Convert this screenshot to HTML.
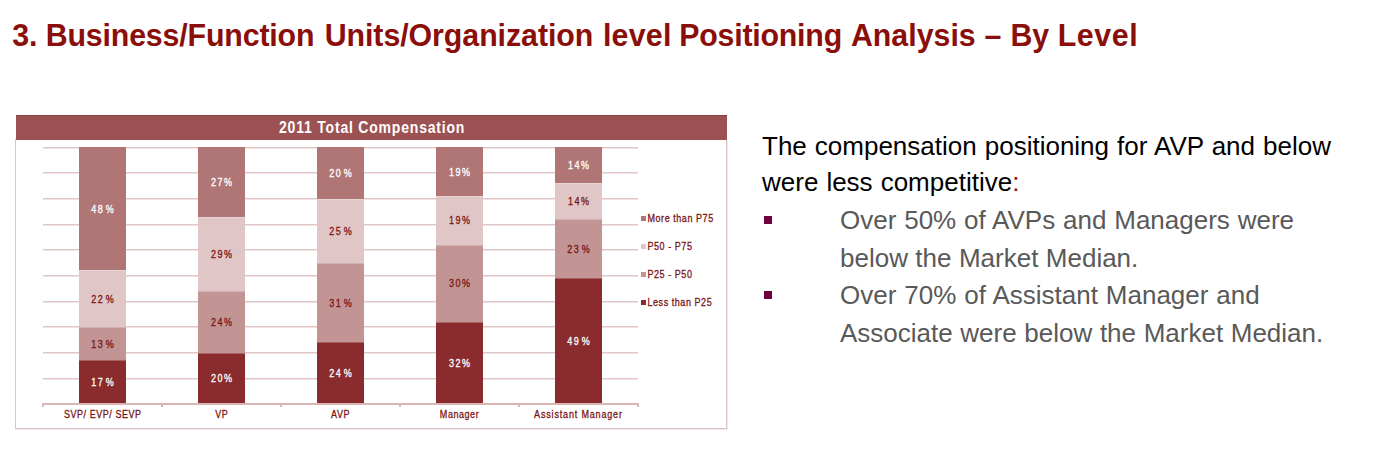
<!DOCTYPE html>
<html><head><meta charset="utf-8">
<style>
html,body{margin:0;padding:0;background:#fff;}
body{width:1374px;height:449px;position:relative;overflow:hidden;font-family:"Liberation Sans",sans-serif;}
.abs{position:absolute;}
#title span{position:absolute;top:0;}
#title{left:0;top:17.3px;width:1374px;height:36px;font-size:30.35px;transform:scaleY(1.05);transform-origin:0 8px;font-weight:bold;color:#8a0e0a;white-space:nowrap;line-height:36px;}
#chart{left:15px;top:139px;width:712px;height:290px;border:1px solid #dfc4c4;box-sizing:border-box;box-shadow:1px 1px 0 #f2e6e6;}
#hdr{left:16px;top:115px;width:711px;height:25px;background:#9c5252;box-shadow:inset 0 1px 0 #8e4040;}
#hdrt{left:279px;top:116px;color:#fff;font-weight:bold;font-size:14px;line-height:25px;letter-spacing:0.8px;white-space:nowrap;transform:scaleY(1.15);transform-origin:0 17.1px;}
.grid{position:absolute;left:43px;width:595px;height:1px;background:#e2c5c5;box-shadow:0 1px 0 #f1e3e3;}
.seg{position:absolute;width:47px;}
.seam{position:absolute;width:47px;height:1px;background:rgba(255,255,255,0.25);}
.lbl{position:absolute;width:47px;text-align:center;font-size:9px;font-weight:normal;-webkit-text-stroke:0.25px currentColor;letter-spacing:1.5px;text-indent:1.5px;line-height:10px;transform:scaleY(1.2);transform-origin:0 4.85px;white-space:nowrap;}
.lbl .g{display:inline-block;width:1.5px;}
.cat{position:absolute;width:118.9px;text-align:center;font-size:9px;font-weight:normal;-webkit-text-stroke:0.25px currentColor;color:#7a1414;top:409px;line-height:10px;letter-spacing:0.55px;text-indent:0.55px;transform:scaleY(1.18);transform-origin:0 5px;white-space:nowrap;}
.leg{position:absolute;left:647.5px;font-size:9px;font-weight:normal;-webkit-text-stroke:0.25px currentColor;color:#7a1414;line-height:10px;letter-spacing:0.55px;white-space:nowrap;transform:scaleY(1.2);transform-origin:0 4.85px;}
.legsq{position:absolute;left:641px;width:5px;height:5px;}
.ln{position:absolute;font-size:26px;line-height:30px;white-space:nowrap;}
.b{color:#595959;}
.sq{position:absolute;width:8px;height:7.5px;background:#700040;}
</style></head><body>
<div id="title" class="abs"><span style="left:12.2px;letter-spacing:0px">3.</span><span style="left:45.65px;letter-spacing:-0.16px">Business/Function</span><span style="left:324.7px;letter-spacing:-0.065px">Units/Organization</span><span style="left:602.9px;letter-spacing:0.25px">level</span><span style="left:679.2px;letter-spacing:-0.22px">Positioning</span><span style="left:850.9px;letter-spacing:0px">Analysis</span><span style="left:984.4px;letter-spacing:0px">–</span><span style="left:1010.4px;letter-spacing:0px">By</span><span style="left:1057.7px;letter-spacing:0.58px">Level</span></div>
<div id="chart" class="abs"></div>
<div id="hdr" class="abs"></div><div id="hdrt" class="abs">2011 Total Compensation</div>
<div class="grid" style="top:146.7px"></div>
<div class="grid" style="top:172.4px"></div>
<div class="grid" style="top:198.0px"></div>
<div class="grid" style="top:223.7px"></div>
<div class="grid" style="top:249.4px"></div>
<div class="grid" style="top:275.0px"></div>
<div class="grid" style="top:300.7px"></div>
<div class="grid" style="top:326.4px"></div>
<div class="grid" style="top:352.1px"></div>
<div class="grid" style="top:377.7px"></div>
<div class="grid" style="top:403.4px"></div>
<div class="seg" style="left:79px;top:360px;height:44px;background:#8a2c2d"></div>
<div class="seg" style="left:79px;top:327px;height:33px;background:#c29494"></div>
<div class="seg" style="left:79px;top:270px;height:57px;background:#e0c6c6"></div>
<div class="seg" style="left:79px;top:147px;height:123px;background:#b07676"></div>
<div class="lbl" style="left:79px;top:377.1px;color:#fff">17<span class="g"></span>%</div>
<div class="lbl" style="left:79px;top:338.6px;color:#7a1414">13<span class="g"></span>%</div>
<div class="lbl" style="left:79px;top:293.7px;color:#7a1414">22<span class="g"></span>%</div>
<div class="lbl" style="left:79px;top:203.8px;color:#fff">48<span class="g"></span>%</div>
<div class="seam" style="left:79px;top:359.5px"></div>
<div class="seam" style="left:79px;top:326.5px"></div>
<div class="seam" style="left:79px;top:269.5px"></div>
<div class="cat" style="left:43.1px">SVP/ EVP/ SEVP</div>
<div class="seg" style="left:198px;top:353px;height:51px;background:#8a2c2d"></div>
<div class="seg" style="left:198px;top:291px;height:62px;background:#c29494"></div>
<div class="seg" style="left:198px;top:217px;height:74px;background:#e0c6c6"></div>
<div class="seg" style="left:198px;top:147px;height:70px;background:#b07676"></div>
<div class="lbl" style="left:198px;top:373.2px;color:#fff">20%</div>
<div class="lbl" style="left:198px;top:316.8px;color:#7a1414">24%</div>
<div class="lbl" style="left:198px;top:248.7px;color:#7a1414">29%</div>
<div class="lbl" style="left:198px;top:176.9px;color:#fff">27%</div>
<div class="seam" style="left:198px;top:352.5px"></div>
<div class="seam" style="left:198px;top:290.5px"></div>
<div class="seam" style="left:198px;top:216.5px"></div>
<div class="cat" style="left:162.0px">VP</div>
<div class="seg" style="left:317px;top:342px;height:62px;background:#8a2c2d"></div>
<div class="seg" style="left:317px;top:263px;height:79px;background:#c29494"></div>
<div class="seg" style="left:317px;top:199px;height:64px;background:#e0c6c6"></div>
<div class="seg" style="left:317px;top:147px;height:52px;background:#b07676"></div>
<div class="lbl" style="left:317px;top:368.1px;color:#fff">24<span class="g"></span>%</div>
<div class="lbl" style="left:317px;top:297.5px;color:#7a1414">31<span class="g"></span>%</div>
<div class="lbl" style="left:317px;top:225.6px;color:#7a1414">25<span class="g"></span>%</div>
<div class="lbl" style="left:317px;top:167.9px;color:#fff">20<span class="g"></span>%</div>
<div class="seam" style="left:317px;top:341.5px"></div>
<div class="seam" style="left:317px;top:262.5px"></div>
<div class="seam" style="left:317px;top:198.5px"></div>
<div class="cat" style="left:280.9px">AVP</div>
<div class="seg" style="left:436px;top:322px;height:82px;background:#8a2c2d"></div>
<div class="seg" style="left:436px;top:245px;height:77px;background:#c29494"></div>
<div class="seg" style="left:436px;top:196px;height:49px;background:#e0c6c6"></div>
<div class="seg" style="left:436px;top:147px;height:49px;background:#b07676"></div>
<div class="lbl" style="left:436px;top:357.8px;color:#fff">32%</div>
<div class="lbl" style="left:436px;top:278.3px;color:#7a1414">30%</div>
<div class="lbl" style="left:436px;top:215.4px;color:#7a1414">19%</div>
<div class="lbl" style="left:436px;top:166.6px;color:#fff">19%</div>
<div class="seam" style="left:436px;top:321.5px"></div>
<div class="seam" style="left:436px;top:244.5px"></div>
<div class="seam" style="left:436px;top:195.5px"></div>
<div class="cat" style="left:399.8px">Manager</div>
<div class="seg" style="left:555px;top:278px;height:126px;background:#8a2c2d"></div>
<div class="seg" style="left:555px;top:219px;height:59px;background:#c29494"></div>
<div class="seg" style="left:555px;top:183px;height:36px;background:#e0c6c6"></div>
<div class="seg" style="left:555px;top:147px;height:36px;background:#b07676"></div>
<div class="lbl" style="left:555px;top:336.0px;color:#fff">49<span class="g"></span>%</div>
<div class="lbl" style="left:555px;top:243.6px;color:#7a1414">23<span class="g"></span>%</div>
<div class="lbl" style="left:555px;top:196.1px;color:#7a1414">14%</div>
<div class="lbl" style="left:555px;top:160.2px;color:#fff">14%</div>
<div class="seam" style="left:555px;top:277.5px"></div>
<div class="seam" style="left:555px;top:218.5px"></div>
<div class="seam" style="left:555px;top:182.5px"></div>
<div class="cat" style="left:518.7px;letter-spacing:0.83px">Assistant Manager</div>
<div class="abs" style="left:42px;top:403px;width:596px;height:2px;background:#d9b5b5"></div>
<div class="abs" style="left:42.1px;top:403px;width:2px;height:4px;background:#d9b5b5"></div>
<div class="abs" style="left:161.0px;top:403px;width:2px;height:4px;background:#d9b5b5"></div>
<div class="abs" style="left:279.9px;top:403px;width:2px;height:4px;background:#d9b5b5"></div>
<div class="abs" style="left:398.8px;top:403px;width:2px;height:4px;background:#d9b5b5"></div>
<div class="abs" style="left:517.7px;top:403px;width:2px;height:4px;background:#d9b5b5"></div>
<div class="abs" style="left:636.6px;top:403px;width:2px;height:4px;background:#d9b5b5"></div>
<div class="legsq" style="top:216px;background:#b07676"></div><div class="leg" style="top:213.4px">More than P75</div>
<div class="legsq" style="top:244px;background:#e0c6c6"></div><div class="leg" style="top:241.2px">P50 - P75</div>
<div class="legsq" style="top:272px;background:#c29494"></div><div class="leg" style="top:269.3px">P25 - P50</div>
<div class="legsq" style="top:300px;background:#8a2c2d"></div><div class="leg" style="top:297.4px">Less than P25</div>
<div class="ln" style="top:130.6px;left:762px;color:#000;word-spacing:0.8px">The compensation positioning for AVP and below</div>
<div class="ln" style="top:166.8px;left:762px;color:#000;word-spacing:0.8px">were less competitive<span style="color:#8a0e0a">:</span></div>
<div class="ln b" style="top:205.3px;left:840px;word-spacing:0.6px">Over 50% of AVPs and Managers were</div>
<div class="ln b" style="top:242.7px;left:840px;word-spacing:0.2px">below the Market Median.</div>
<div class="ln b" style="top:279.9px;left:840px;word-spacing:0.7px">Over 70% of Assistant Manager and</div>
<div class="ln b" style="top:318.2px;left:840px;word-spacing:0.4px">Associate were below the Market Median.</div>
<div class="sq" style="left:764px;top:216px"></div>
<div class="sq" style="left:764px;top:291px"></div>
</body></html>
